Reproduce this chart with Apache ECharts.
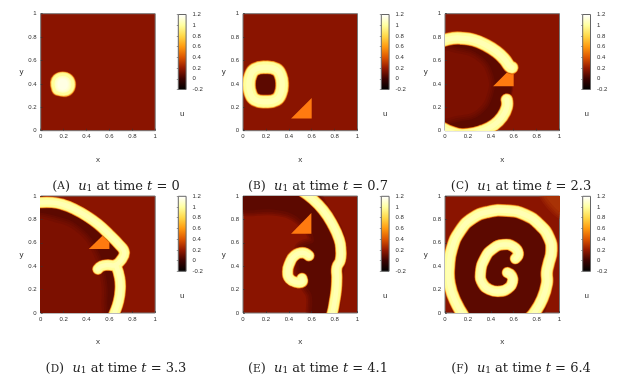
<!DOCTYPE html>
<html><head><meta charset="utf-8">
<style>html,body{margin:0;padding:0;background:#fff}#c{width:623px;height:382px}</style>
<script src="https://cdn.jsdelivr.net/npm/echarts@6/dist/echarts.min.js"></script></head>
<body><div id="c"></div>
<script>
// ---- tick labels / scale
const axisTicks = [0, 0.2, 0.4, 0.6, 0.8, 1];
const colorbarValues = [-0.2, 0, 0.2, 0.4, 0.6, 0.8, 1, 1.2];
const colorbarColors = ['#000000', '#3c0200', '#951a00', '#dd5500', '#ff9a10', '#ffd848', '#ffffa0', '#ffffff'];
const panelLetters = ['A', 'B', 'C', 'D', 'E', 'F'];
const panelTimes = ['0', '0.7', '2.3', '3.3', '4.1', '6.4'];
// ---- wave fronts: [x, y]
const blobA = [[.155,.36],[.23,.36],[.23,.43],[.155,.43],[.155,.36]];
const ringB = [[.197,.542],[.29,.525],[.33,.47],[.342,.395],[.33,.32],[.29,.265],[.197,.248],[.105,.265],[.065,.32],[.052,.395],[.065,.47],[.105,.525],[.197,.542]];
const topC = [[-.05,.76],[.07,.79],[.15,.79],[.25,.775],[.35,.735],[.45,.675],[.52,.61],[.565,.55],[.585,.54]];
const lowC = [[.54,.265],[.54,.2],[.5,.12],[.43,.05],[.33,0],[.2,-.03],[.08,-.02],[-.05,.04]];
const mainD = [[-.05,.94],[.1,.945],[.2,.925],[.3,.885],[.4,.83],[.5,.76],[.6,.67],[.68,.59],[.73,.52],[.70,.45],[.65,.41],[.58,.41],[.53,.4],[.5,.375]];
const lowD = [[.66,.40],[.69,.3],[.695,.2],[.68,.1],[.645,0],[.62,-.05]];
const mainE = [[.5,1.05],[.6,.98],[.7,.88],[.78,.76],[.84,.63],[.855,.54],[.85,.45],[.82,.39],[.82,.3],[.815,.2],[.8,.1],[.78,0],[.76,-.05]];
const hookE = [[.575,.49],[.52,.515],[.45,.49],[.41,.43],[.39,.355],[.41,.29],[.47,.262],[.515,.265],[.515,.295]];
const mainF = [[.18,-.05],[.09,.1],[.04,.25],[.035,.4],[.06,.55],[.13,.7],[.24,.81],[.38,.865],[.54,.875],[.7,.84],[.83,.75],[.91,.64],[.93,.53],[.905,.42],[.89,.35],[.89,.25],[.85,.12],[.78,0],[.73,-.05]];
const hookF = [[.615,.465],[.64,.51],[.6,.565],[.51,.585],[.42,.55],[.35,.47],[.31,.34],[.33,.25],[.39,.2],[.47,.185],[.55,.21],[.59,.27],[.58,.32],[.545,.345]];
// ---- low-value wake regions
const coreA = [[.16,.36],[.225,.36],[.225,.43],[.16,.43]];
const holeB = [[.1,.31],[.29,.31],[.29,.485],[.1,.485]];
const wakeC = [[-.05,.78],[.15,.79],[.3,.75],[.45,.67],[.55,.55],[.58,.4],[.55,.25],[.5,.12],[.35,0],[-.05,-.05]];
const coreC = [[-.05,.66],[.12,.66],[.28,.6],[.37,.47],[.37,.32],[.28,.18],[.12,.13],[-.05,.13]];
const wakeD = [[-.05,.95],[.2,.93],[.4,.83],[.6,.67],[.72,.53],[.65,.41],[.69,.25],[.64,-.05],[-.05,-.05]];
const coreD = [[-.05,.77],[.15,.77],[.33,.68],[.45,.52],[.52,.3],[.53,.1],[.5,-.05],[-.05,-.05]];
const wakeE = [[-.05,1.05],[.55,1.05],[.72,.86],[.85,.6],[.82,.3],[.76,-.05],[.62,-.05],[.6,.15],[.56,.22],[.5,.35],[.5,.55],[.62,.62],[.5,.8],[.3,.88],[-.05,.9]];
const wakeF = [[.16,-.05],[.04,.25],[.035,.4],[.13,.7],[.38,.865],[.7,.84],[.91,.64],[.89,.25],[.78,-.05]];
const cornerF = [[.86,1.05],[1.05,1.05],[1.05,.84]];
// ---- obstacle triangles
const triB = [[.42,.105],[.6,.105],[.6,.28]];
const triC = [[.42,.38],[.6,.38],[.6,.555]];
const triD = [[.42,.547],[.6,.547],[.6,.718]];
const triE = [[.42,.678],[.597,.678],[.597,.855]];

const BG = '#8a1400', DARK = '#5c0900', CORE = '#7c1000', TRI = '#ff7a10';
const plotLefts = [40.7, 243, 445];
const plotTops = [13.7, 196];
const barLefts = [178.3, 381.3, 582.7];
const barTops = [14.5, 196.3];
const capCenters = [111, 313, 516];
const capYs = [181.5, 364];

const panels = [
  {regions: [], fronts: [[blobA, 13]], tops: [[coreA, '#ffffe4', 3]], tri: null},
  {regions: [[holeB, DARK, 3]], fronts: [[ringB, 12]], tri: triB},
  {regions: [[wakeC, DARK, 2], [coreC, CORE, 6]], fronts: [[topC, 11.5], [lowC, 11]], tri: triC},
  {regions: [[wakeD, DARK, 2], [coreD, CORE, 6]], fronts: [[mainD, 10], [lowD, 10]], tri: triD},
  {regions: [[wakeE, DARK, 6]], fronts: [[mainE, 10], [hookE, 10]], tri: triE},
  {regions: [[cornerF, '#a83206', 6], [wakeF, DARK, 3]], fronts: [[mainF, 11], [hookF, 10]], tri: null}
];
const layers = [[1.18, '#b8420a'], [1.10, '#ef8a18'], [1.03, '#ffc24a'], [.96, '#ffee88'], [.85, '#ffff9c'], [.45, '#ffffb4']];

const grids = [], xAxes = [], yAxes = [], series = [], titles = [];
const tickFont = {fontFamily: 'Liberation Sans', fontSize: 6, color: '#333'};
const nameFont = {fontFamily: 'Liberation Sans', fontSize: 8, color: '#333'};

function polygonSeries(pts, color, soft, gi, z) {
  series.push({type: 'custom', xAxisIndex: gi, yAxisIndex: gi, coordinateSystem: 'cartesian2d', clip: true, silent: true, z, animation: false,
    data: pts, encode: {x: 0, y: 1},
    renderItem(params, api) {
      if (params.dataIndex !== 0) return null;
      const shape = {points: pts.map(p => api.coord(p)), smooth: soft > 0 ? 0.45 : 0, smoothConstraint: false};
      const rings = soft > 0 ? [[2, .3], [1.4, .35], [.8, .5]] : [];
      return {type: 'group', children: rings.map(r => ({type: 'polygon', shape,
          style: {fill: 'none', stroke: color, lineWidth: r[0] * soft, opacity: r[1], lineJoin: 'round'}}))
        .concat([{type: 'polygon', shape, style: {fill: color}}])};
    }});
}
function frontSeries(pts, width, color, gi, z) {
  series.push({type: 'custom', xAxisIndex: gi, yAxisIndex: gi, coordinateSystem: 'cartesian2d', clip: true, silent: true, z, animation: false,
    data: pts, encode: {x: 0, y: 1},
    renderItem(params, api) {
      if (params.dataIndex !== 0) return null;
      return {type: 'polyline', shape: {points: pts.map(p => api.coord(p)), smooth: 0.5, smoothConstraint: false},
        style: {fill: 'none', stroke: color, lineWidth: width, lineCap: 'round', lineJoin: 'round'}};
    }});
}

panels.forEach((p, i) => {
  const col = i % 3, row = Math.floor(i / 3);
  const gi = grids.length;
  grids.push({left: plotLefts[col], top: plotTops[row], width: 114.5, height: 117, show: true, backgroundColor: BG, borderColor: '#777', borderWidth: 1});
  const tl = {...tickFont, hideOverlap: false, showMinLabel: true, showMaxLabel: true, formatter: v => String(+v.toFixed(1))};
  xAxes.push({type: 'value', gridIndex: gi, min: 0, max: 1, interval: 0.2, z: 5, axisLine: {show: false},
    axisTick: {inside: true, length: 2, lineStyle: {color: '#333', width: .6}}, splitLine: {show: false},
    axisLabel: {...tl, margin: 3}, name: 'x', nameLocation: 'middle', nameGap: 25, nameTextStyle: nameFont});
  yAxes.push({type: 'value', gridIndex: gi, min: 0, max: 1, interval: 0.2, z: 5, axisLine: {show: false},
    axisTick: {inside: true, length: 2, lineStyle: {color: '#333', width: .6}}, splitLine: {show: false},
    axisLabel: {...tl, margin: 4}, name: 'y', nameLocation: 'middle', nameGap: 15, nameRotate: 0, nameTextStyle: nameFont});
  p.regions.forEach((r, k) => polygonSeries(r[0], r[1], r[2], gi, 1 + k));
  if (p.tri) polygonSeries(p.tri, TRI, 0, gi, 4);
  p.fronts.forEach(([pts, w]) => layers.forEach((l, k) => frontSeries(pts, w * l[0], l[1], gi, 5 + k / 10)));
  (p.tops || []).forEach(r => polygonSeries(r[0], r[1], r[2], gi, 6));

  // colour bar
  const bi = grids.length;
  grids.push({left: barLefts[col], top: barTops[row], width: 7.8, height: 75, show: true, backgroundColor: 'transparent', borderColor: '#666', borderWidth: 1, z: 6});
  xAxes.push({type: 'value', gridIndex: bi, min: 0, max: 1, axisLine: {show: false}, axisTick: {show: false}, axisLabel: {show: false}, splitLine: {show: false},
    name: 'u', nameLocation: 'middle', nameGap: 20, nameTextStyle: nameFont});
  yAxes.push({type: 'value', gridIndex: bi, min: -0.2, max: 1.2, interval: 0.2, position: 'right', z: 5, axisLine: {show: false},
    axisTick: {inside: true, length: 1.5, lineStyle: {color: '#555', width: .6}}, splitLine: {show: false},
    axisLabel: {...tickFont, margin: 6.5, formatter: v => String(+v.toFixed(1))}});
  series.push({type: 'custom', xAxisIndex: bi, yAxisIndex: bi, coordinateSystem: 'cartesian2d', silent: true, animation: false, z: 2,
    data: [[0, colorbarValues[0]]], encode: {x: 0, y: 1},
    renderItem(params, api) {
      const lo = api.coord([0, colorbarValues[0]]), hi = api.coord([1, colorbarValues[colorbarValues.length - 1]]);
      const n = colorbarValues.length - 1;
      return {type: 'rect', shape: {x: lo[0], y: hi[1], width: hi[0] - lo[0], height: lo[1] - hi[1]},
        style: {fill: new echarts.graphic.LinearGradient(0, 1, 0, 0, colorbarColors.map((c, j) => ({offset: j / n, color: c})))}};
    }});

  // caption
  titles.push({left: capCenters[col], top: capYs[row], textAlign: 'center', textVerticalAlign: 'middle',
    text: `(${'{s|' + panelLetters[i] + '}'})  {i|u}{b|1} at time {i|t} = ${panelTimes[i]}`,
    textStyle: {fontFamily: 'DejaVu Serif', fontSize: 13, fontWeight: 'normal', color: '#222',
      rich: {s: {fontFamily: 'DejaVu Serif', fontSize: 10.5, color: '#222'},
             i: {fontFamily: 'DejaVu Serif', fontStyle: 'italic', fontSize: 13, color: '#222'},
             b: {fontFamily: 'DejaVu Serif', fontSize: 9, color: '#222', verticalAlign: 'bottom', padding: [4, 0, 0, 0]}}}});
});

const chart = echarts.init(document.getElementById('c'), null, {renderer: 'canvas'});
chart.setOption({animation: false, backgroundColor: '#fff', title: titles, grid: grids, xAxis: xAxes, yAxis: yAxes, series});
</script></body></html>
